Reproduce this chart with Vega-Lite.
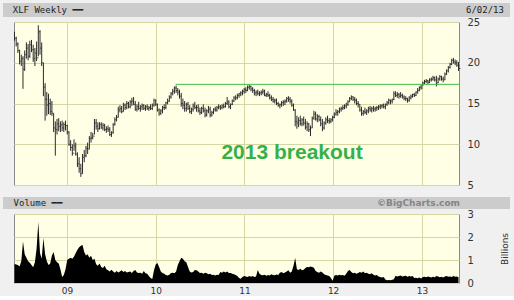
{
"$schema": "https://vega.github.io/schema/vega-lite/v6.json",
"background": "#f0f0f0",
"padding": {"left": 3, "top": 3, "right": 4, "bottom": 0},
"config": {
  "view": {"stroke": null},
  "font": "DejaVu Sans",
  "axis": {"labelFont": "DejaVu Sans", "labelColor": "#333333", "labelFontSize": 10, "ticks": false, "domain": false, "gridColor": "#d6d6a4", "gridWidth": 1, "gridOpacity": 1}
},
"datasets": {"px": [
{"d":"2008-05-30","h":23.8,"l":22.7,"c":23.0,"v":0.83},
{"d":"2008-06-06","h":23.2,"l":22.0,"c":22.3,"v":0.80},
{"d":"2008-06-13","h":22.5,"l":21.2,"c":21.5,"v":0.78},
{"d":"2008-06-20","h":21.6,"l":19.8,"c":20.2,"v":0.72},
{"d":"2008-06-27","h":21.0,"l":19.6,"c":20.5,"v":0.95},
{"d":"2008-07-04","h":20.8,"l":16.8,"c":19.2,"v":1.80},
{"d":"2008-07-11","h":21.5,"l":19.0,"c":21.0,"v":1.25},
{"d":"2008-07-18","h":22.5,"l":20.5,"c":21.8,"v":1.10},
{"d":"2008-07-25","h":22.3,"l":20.3,"c":20.8,"v":0.95},
{"d":"2008-08-01","h":22.7,"l":20.6,"c":22.2,"v":0.88},
{"d":"2008-08-08","h":22.8,"l":21.3,"c":21.6,"v":0.78},
{"d":"2008-08-15","h":22.2,"l":20.1,"c":20.5,"v":0.68},
{"d":"2008-08-22","h":21.8,"l":19.6,"c":21.2,"v":0.90},
{"d":"2008-08-29","h":22.6,"l":20.2,"c":20.6,"v":1.50},
{"d":"2008-09-05","h":24.6,"l":20.8,"c":23.8,"v":2.65},
{"d":"2008-09-12","h":24.0,"l":21.0,"c":21.8,"v":1.30},
{"d":"2008-09-19","h":22.5,"l":19.6,"c":20.0,"v":1.05},
{"d":"2008-09-26","h":20.0,"l":15.9,"c":17.0,"v":1.96},
{"d":"2008-10-03","h":17.5,"l":12.9,"c":15.5,"v":1.25},
{"d":"2008-10-10","h":16.4,"l":13.5,"c":14.8,"v":0.95},
{"d":"2008-10-17","h":16.2,"l":13.7,"c":15.0,"v":0.78},
{"d":"2008-10-24","h":15.6,"l":13.6,"c":14.0,"v":0.85},
{"d":"2008-10-31","h":15.3,"l":13.5,"c":13.8,"v":1.20},
{"d":"2008-11-07","h":13.8,"l":11.5,"c":12.0,"v":1.35},
{"d":"2008-11-14","h":12.8,"l":8.6,"c":11.8,"v":1.00},
{"d":"2008-11-21","h":13.1,"l":11.2,"c":12.5,"v":0.90},
{"d":"2008-11-28","h":13.2,"l":11.6,"c":12.2,"v":0.85},
{"d":"2008-12-05","h":12.8,"l":11.5,"c":12.4,"v":0.60},
{"d":"2008-12-12","h":12.9,"l":11.6,"c":12.0,"v":0.26},
{"d":"2008-12-19","h":12.7,"l":11.5,"c":12.4,"v":0.35},
{"d":"2008-12-26","h":12.9,"l":11.7,"c":12.3,"v":0.60},
{"d":"2009-01-02","h":12.4,"l":11.2,"c":11.5,"v":1.00},
{"d":"2009-01-09","h":11.6,"l":9.8,"c":10.0,"v":1.05},
{"d":"2009-01-16","h":10.5,"l":9.2,"c":9.6,"v":1.10},
{"d":"2009-01-23","h":10.0,"l":8.6,"c":8.9,"v":1.05},
{"d":"2009-01-30","h":10.6,"l":9.2,"c":9.8,"v":1.15},
{"d":"2009-02-06","h":10.2,"l":8.6,"c":8.8,"v":1.30},
{"d":"2009-02-13","h":9.0,"l":7.2,"c":7.6,"v":1.45},
{"d":"2009-02-20","h":8.4,"l":6.5,"c":7.0,"v":1.55},
{"d":"2009-02-27","h":7.6,"l":6.0,"c":6.4,"v":1.62},
{"d":"2009-03-06","h":8.8,"l":6.4,"c":8.4,"v":1.65},
{"d":"2009-03-13","h":9.3,"l":7.8,"c":8.6,"v":1.35},
{"d":"2009-03-20","h":9.8,"l":8.4,"c":9.5,"v":1.20},
{"d":"2009-03-27","h":10.2,"l":8.8,"c":9.4,"v":1.25},
{"d":"2009-04-03","h":11.0,"l":9.4,"c":10.7,"v":1.10},
{"d":"2009-04-10","h":11.5,"l":10.2,"c":10.8,"v":1.18},
{"d":"2009-04-17","h":11.4,"l":10.6,"c":11.0,"v":1.00},
{"d":"2009-04-24","h":13.1,"l":11.2,"c":12.6,"v":1.05},
{"d":"2009-05-01","h":13.1,"l":11.8,"c":12.2,"v":0.82},
{"d":"2009-05-08","h":12.7,"l":11.5,"c":11.9,"v":0.75},
{"d":"2009-05-15","h":12.7,"l":11.8,"c":12.4,"v":0.85},
{"d":"2009-05-22","h":12.7,"l":11.9,"c":12.0,"v":0.70},
{"d":"2009-05-29","h":12.6,"l":11.7,"c":12.3,"v":0.65},
{"d":"2009-06-05","h":12.5,"l":11.6,"c":11.8,"v":0.75},
{"d":"2009-06-12","h":12.2,"l":11.4,"c":11.9,"v":0.60},
{"d":"2009-06-19","h":12.3,"l":11.5,"c":11.8,"v":0.55},
{"d":"2009-06-26","h":12.1,"l":11.0,"c":11.2,"v":0.50},
{"d":"2009-07-03","h":11.6,"l":10.9,"c":11.4,"v":0.58},
{"d":"2009-07-10","h":12.6,"l":11.3,"c":12.4,"v":0.50},
{"d":"2009-07-17","h":13.3,"l":12.3,"c":13.0,"v":0.45},
{"d":"2009-07-24","h":13.6,"l":12.8,"c":13.3,"v":0.52},
{"d":"2009-07-31","h":14.6,"l":13.3,"c":14.2,"v":0.46},
{"d":"2009-08-07","h":14.8,"l":13.9,"c":14.4,"v":0.50},
{"d":"2009-08-14","h":14.7,"l":13.8,"c":14.0,"v":0.55},
{"d":"2009-08-21","h":15.1,"l":14.0,"c":14.8,"v":0.48},
{"d":"2009-08-28","h":15.0,"l":14.2,"c":14.5,"v":0.52},
{"d":"2009-09-04","h":15.3,"l":14.3,"c":15.0,"v":0.46},
{"d":"2009-09-11","h":15.2,"l":14.4,"c":14.6,"v":0.48},
{"d":"2009-09-18","h":15.4,"l":14.4,"c":15.2,"v":0.50},
{"d":"2009-09-25","h":15.7,"l":14.7,"c":15.3,"v":0.44},
{"d":"2009-10-02","h":15.8,"l":14.8,"c":14.9,"v":0.52},
{"d":"2009-10-09","h":15.3,"l":14.1,"c":14.3,"v":0.57},
{"d":"2009-10-16","h":14.9,"l":14.0,"c":14.6,"v":0.46},
{"d":"2009-10-23","h":15.2,"l":14.2,"c":14.4,"v":0.43},
{"d":"2009-10-30","h":14.8,"l":14.0,"c":14.6,"v":0.45},
{"d":"2009-11-06","h":15.0,"l":14.2,"c":14.8,"v":0.40},
{"d":"2009-11-13","h":14.9,"l":14.2,"c":14.4,"v":0.52},
{"d":"2009-11-20","h":14.8,"l":14.1,"c":14.6,"v":0.42},
{"d":"2009-11-27","h":14.9,"l":14.2,"c":14.4,"v":0.40},
{"d":"2009-12-04","h":14.7,"l":14.1,"c":14.5,"v":0.30},
{"d":"2009-12-11","h":14.9,"l":14.2,"c":14.4,"v":0.22},
{"d":"2009-12-18","h":15.0,"l":14.2,"c":14.8,"v":0.17},
{"d":"2009-12-25","h":15.6,"l":14.6,"c":15.4,"v":0.55},
{"d":"2010-01-01","h":15.5,"l":14.7,"c":14.9,"v":0.80},
{"d":"2010-01-08","h":15.0,"l":14.0,"c":14.2,"v":0.87},
{"d":"2010-01-15","h":14.4,"l":13.5,"c":13.8,"v":0.70},
{"d":"2010-01-22","h":14.3,"l":13.6,"c":14.1,"v":0.50},
{"d":"2010-01-29","h":14.7,"l":13.8,"c":14.5,"v":0.43},
{"d":"2010-02-05","h":14.9,"l":14.2,"c":14.5,"v":0.40},
{"d":"2010-02-12","h":15.2,"l":14.3,"c":15.1,"v":0.35},
{"d":"2010-02-19","h":15.6,"l":14.9,"c":15.3,"v":0.33},
{"d":"2010-02-26","h":16.0,"l":15.2,"c":15.8,"v":0.36},
{"d":"2010-03-05","h":16.4,"l":15.6,"c":16.2,"v":0.43},
{"d":"2010-03-12","h":16.8,"l":16.0,"c":16.5,"v":0.45},
{"d":"2010-03-19","h":17.1,"l":16.2,"c":16.9,"v":0.42},
{"d":"2010-03-26","h":17.2,"l":16.3,"c":16.6,"v":0.50},
{"d":"2010-04-02","h":16.9,"l":16.0,"c":16.4,"v":0.78},
{"d":"2010-04-09","h":16.7,"l":15.6,"c":15.9,"v":0.95},
{"d":"2010-04-16","h":16.3,"l":14.6,"c":15.0,"v":1.10},
{"d":"2010-04-23","h":15.6,"l":14.3,"c":14.8,"v":1.05},
{"d":"2010-04-30","h":15.3,"l":14.0,"c":14.4,"v":0.95},
{"d":"2010-05-07","h":15.1,"l":14.0,"c":14.9,"v":0.90},
{"d":"2010-05-14","h":15.2,"l":14.2,"c":14.4,"v":0.70},
{"d":"2010-05-21","h":14.8,"l":13.8,"c":14.0,"v":0.50},
{"d":"2010-05-28","h":14.5,"l":13.7,"c":14.3,"v":0.46},
{"d":"2010-06-04","h":15.0,"l":14.0,"c":14.7,"v":0.48},
{"d":"2010-06-11","h":15.2,"l":14.3,"c":14.5,"v":0.57},
{"d":"2010-06-18","h":14.8,"l":14.0,"c":14.5,"v":0.55},
{"d":"2010-06-25","h":14.9,"l":13.9,"c":14.1,"v":0.50},
{"d":"2010-07-02","h":14.5,"l":13.6,"c":13.9,"v":0.43},
{"d":"2010-07-09","h":14.6,"l":13.7,"c":14.4,"v":0.45},
{"d":"2010-07-16","h":14.9,"l":13.9,"c":14.1,"v":0.40},
{"d":"2010-07-23","h":14.5,"l":13.3,"c":13.6,"v":0.45},
{"d":"2010-07-30","h":14.3,"l":13.4,"c":14.1,"v":0.42},
{"d":"2010-08-06","h":14.7,"l":13.8,"c":14.3,"v":0.38},
{"d":"2010-08-13","h":14.6,"l":13.3,"c":13.6,"v":0.40},
{"d":"2010-08-20","h":14.1,"l":13.4,"c":13.9,"v":0.35},
{"d":"2010-08-27","h":14.4,"l":13.7,"c":14.3,"v":0.36},
{"d":"2010-09-03","h":14.6,"l":14.0,"c":14.2,"v":0.33},
{"d":"2010-09-10","h":14.7,"l":14.0,"c":14.5,"v":0.36},
{"d":"2010-09-17","h":14.9,"l":14.3,"c":14.6,"v":0.35},
{"d":"2010-09-24","h":14.8,"l":14.2,"c":14.5,"v":0.48},
{"d":"2010-10-01","h":14.9,"l":14.3,"c":14.7,"v":0.45},
{"d":"2010-10-08","h":15.0,"l":14.4,"c":14.6,"v":0.50},
{"d":"2010-10-15","h":15.2,"l":14.5,"c":15.0,"v":0.46},
{"d":"2010-10-22","h":15.8,"l":14.8,"c":15.2,"v":0.50},
{"d":"2010-10-29","h":15.4,"l":14.4,"c":14.6,"v":0.44},
{"d":"2010-11-05","h":15.0,"l":14.3,"c":14.9,"v":0.43},
{"d":"2010-11-12","h":15.5,"l":14.8,"c":15.3,"v":0.40},
{"d":"2010-11-19","h":15.9,"l":15.2,"c":15.7,"v":0.38},
{"d":"2010-11-26","h":16.0,"l":15.4,"c":15.7,"v":0.35},
{"d":"2010-12-03","h":16.2,"l":15.5,"c":16.0,"v":0.30},
{"d":"2010-12-10","h":16.3,"l":15.7,"c":16.2,"v":0.22},
{"d":"2010-12-17","h":16.5,"l":15.9,"c":16.3,"v":0.18},
{"d":"2010-12-24","h":16.7,"l":16.0,"c":16.5,"v":0.26},
{"d":"2010-12-31","h":16.9,"l":16.2,"c":16.7,"v":0.30},
{"d":"2011-01-07","h":17.0,"l":16.3,"c":16.6,"v":0.28},
{"d":"2011-01-14","h":17.2,"l":16.5,"c":17.0,"v":0.26},
{"d":"2011-01-21","h":17.3,"l":16.7,"c":17.1,"v":0.30},
{"d":"2011-01-28","h":17.2,"l":16.5,"c":16.8,"v":0.27},
{"d":"2011-02-04","h":17.0,"l":16.3,"c":16.6,"v":0.30},
{"d":"2011-02-11","h":16.8,"l":16.0,"c":16.3,"v":0.26},
{"d":"2011-02-18","h":16.6,"l":15.9,"c":16.4,"v":0.28},
{"d":"2011-02-25","h":16.7,"l":16.0,"c":16.2,"v":0.57},
{"d":"2011-03-04","h":16.5,"l":15.9,"c":16.3,"v":0.40},
{"d":"2011-03-11","h":16.6,"l":16.0,"c":16.4,"v":0.35},
{"d":"2011-03-18","h":16.8,"l":16.1,"c":16.5,"v":0.34},
{"d":"2011-03-25","h":16.7,"l":15.9,"c":16.0,"v":0.36},
{"d":"2011-04-01","h":16.3,"l":15.8,"c":16.1,"v":0.32},
{"d":"2011-04-08","h":16.5,"l":15.8,"c":16.0,"v":0.35},
{"d":"2011-04-15","h":16.2,"l":15.5,"c":15.7,"v":0.33},
{"d":"2011-04-22","h":16.0,"l":15.3,"c":15.5,"v":0.38},
{"d":"2011-04-29","h":15.8,"l":15.1,"c":15.3,"v":0.35},
{"d":"2011-05-06","h":15.6,"l":15.0,"c":15.4,"v":0.34},
{"d":"2011-05-13","h":15.6,"l":14.8,"c":15.0,"v":0.37},
{"d":"2011-05-20","h":15.2,"l":14.6,"c":14.8,"v":0.35},
{"d":"2011-05-27","h":15.0,"l":14.4,"c":14.9,"v":0.45},
{"d":"2011-06-03","h":15.3,"l":14.6,"c":15.1,"v":0.48},
{"d":"2011-06-10","h":15.4,"l":14.7,"c":15.2,"v":0.42},
{"d":"2011-06-17","h":15.5,"l":14.8,"c":15.3,"v":0.46},
{"d":"2011-06-24","h":15.8,"l":15.1,"c":15.6,"v":0.50},
{"d":"2011-07-01","h":15.9,"l":15.2,"c":15.5,"v":0.55},
{"d":"2011-07-08","h":15.8,"l":15.0,"c":15.3,"v":0.45},
{"d":"2011-07-15","h":15.5,"l":14.6,"c":14.8,"v":0.50},
{"d":"2011-07-22","h":15.0,"l":14.1,"c":14.2,"v":0.75},
{"d":"2011-07-29","h":14.3,"l":12.2,"c":12.8,"v":1.09},
{"d":"2011-08-05","h":13.5,"l":11.9,"c":12.6,"v":0.60},
{"d":"2011-08-12","h":13.3,"l":12.1,"c":12.9,"v":0.57},
{"d":"2011-08-19","h":13.5,"l":12.3,"c":12.5,"v":0.62},
{"d":"2011-08-26","h":13.2,"l":12.2,"c":13.0,"v":0.55},
{"d":"2011-09-02","h":13.4,"l":12.3,"c":12.6,"v":0.58},
{"d":"2011-09-09","h":13.1,"l":11.8,"c":12.1,"v":0.65},
{"d":"2011-09-16","h":12.8,"l":11.6,"c":12.5,"v":0.70},
{"d":"2011-09-23","h":12.6,"l":11.5,"c":11.8,"v":0.68},
{"d":"2011-09-30","h":12.3,"l":11.0,"c":12.0,"v":0.72},
{"d":"2011-10-07","h":13.4,"l":12.0,"c":13.2,"v":0.70},
{"d":"2011-10-14","h":14.1,"l":13.0,"c":13.7,"v":0.66},
{"d":"2011-10-21","h":14.0,"l":12.9,"c":13.1,"v":0.52},
{"d":"2011-10-28","h":13.7,"l":12.7,"c":13.4,"v":0.48},
{"d":"2011-11-04","h":13.6,"l":12.8,"c":13.0,"v":0.45},
{"d":"2011-11-11","h":13.4,"l":12.2,"c":12.5,"v":0.50},
{"d":"2011-11-18","h":13.1,"l":11.6,"c":12.0,"v":0.46},
{"d":"2011-11-25","h":12.8,"l":11.8,"c":12.6,"v":0.38},
{"d":"2011-12-02","h":13.3,"l":12.4,"c":13.0,"v":0.35},
{"d":"2011-12-09","h":13.5,"l":12.6,"c":12.9,"v":0.33},
{"d":"2011-12-16","h":13.2,"l":12.5,"c":12.8,"v":0.30},
{"d":"2011-12-23","h":13.2,"l":12.6,"c":13.0,"v":0.22},
{"d":"2011-12-30","h":13.5,"l":12.8,"c":13.3,"v":0.10},
{"d":"2012-01-06","h":13.9,"l":13.2,"c":13.7,"v":0.32},
{"d":"2012-01-13","h":14.3,"l":13.5,"c":13.9,"v":0.35},
{"d":"2012-01-20","h":14.2,"l":13.5,"c":14.0,"v":0.33},
{"d":"2012-01-27","h":14.5,"l":13.8,"c":14.3,"v":0.36},
{"d":"2012-02-03","h":14.6,"l":14.0,"c":14.4,"v":0.34},
{"d":"2012-02-10","h":14.8,"l":14.2,"c":14.5,"v":0.35},
{"d":"2012-02-17","h":14.9,"l":14.3,"c":14.7,"v":0.32},
{"d":"2012-02-24","h":15.1,"l":14.4,"c":14.9,"v":0.40},
{"d":"2012-03-02","h":15.4,"l":14.7,"c":15.2,"v":0.52},
{"d":"2012-03-09","h":15.8,"l":15.2,"c":15.6,"v":0.57},
{"d":"2012-03-16","h":16.0,"l":15.4,"c":15.8,"v":0.48},
{"d":"2012-03-23","h":15.9,"l":15.3,"c":15.5,"v":0.42},
{"d":"2012-03-30","h":15.8,"l":15.0,"c":15.4,"v":0.45},
{"d":"2012-04-06","h":15.6,"l":14.8,"c":15.0,"v":0.40},
{"d":"2012-04-13","h":15.3,"l":14.5,"c":14.9,"v":0.44},
{"d":"2012-04-20","h":14.9,"l":14.0,"c":14.2,"v":0.48},
{"d":"2012-04-27","h":14.6,"l":13.5,"c":13.8,"v":0.45},
{"d":"2012-05-04","h":14.2,"l":13.5,"c":14.0,"v":0.50},
{"d":"2012-05-11","h":14.5,"l":13.7,"c":13.9,"v":0.42},
{"d":"2012-05-18","h":14.3,"l":13.6,"c":14.1,"v":0.45},
{"d":"2012-05-25","h":14.6,"l":13.8,"c":14.4,"v":0.40},
{"d":"2012-06-01","h":14.7,"l":14.0,"c":14.2,"v":0.38},
{"d":"2012-06-08","h":14.6,"l":13.9,"c":14.4,"v":0.42},
{"d":"2012-06-15","h":14.7,"l":14.0,"c":14.3,"v":0.36},
{"d":"2012-06-22","h":14.6,"l":14.0,"c":14.4,"v":0.33},
{"d":"2012-06-29","h":14.7,"l":14.1,"c":14.5,"v":0.35},
{"d":"2012-07-06","h":14.8,"l":14.2,"c":14.6,"v":0.28},
{"d":"2012-07-13","h":14.9,"l":14.3,"c":14.7,"v":0.26},
{"d":"2012-07-20","h":14.9,"l":14.4,"c":14.8,"v":0.24},
{"d":"2012-07-27","h":15.0,"l":14.4,"c":14.6,"v":0.26},
{"d":"2012-08-03","h":15.0,"l":14.3,"c":14.9,"v":0.15},
{"d":"2012-08-10","h":15.3,"l":14.7,"c":15.1,"v":0.12},
{"d":"2012-08-17","h":15.6,"l":14.9,"c":15.4,"v":0.13},
{"d":"2012-08-24","h":15.5,"l":14.9,"c":15.3,"v":0.12},
{"d":"2012-08-31","h":15.6,"l":15.0,"c":15.5,"v":0.14},
{"d":"2012-09-07","h":16.5,"l":15.4,"c":16.2,"v":0.16},
{"d":"2012-09-14","h":16.5,"l":15.8,"c":16.0,"v":0.32},
{"d":"2012-09-21","h":16.4,"l":15.7,"c":16.1,"v":0.28},
{"d":"2012-09-28","h":16.3,"l":15.6,"c":15.9,"v":0.30},
{"d":"2012-10-05","h":16.4,"l":15.7,"c":16.0,"v":0.33},
{"d":"2012-10-12","h":16.2,"l":15.6,"c":15.8,"v":0.28},
{"d":"2012-10-19","h":16.0,"l":15.4,"c":15.6,"v":0.30},
{"d":"2012-10-26","h":15.9,"l":15.3,"c":15.6,"v":0.32},
{"d":"2012-11-02","h":15.7,"l":15.1,"c":15.4,"v":0.27},
{"d":"2012-11-09","h":15.9,"l":15.2,"c":15.7,"v":0.30},
{"d":"2012-11-16","h":16.1,"l":15.5,"c":15.9,"v":0.28},
{"d":"2012-11-23","h":16.2,"l":15.7,"c":16.1,"v":0.30},
{"d":"2012-11-30","h":16.3,"l":15.8,"c":16.0,"v":0.22},
{"d":"2012-12-07","h":16.5,"l":15.9,"c":16.4,"v":0.23},
{"d":"2012-12-14","h":16.9,"l":16.2,"c":16.6,"v":0.21},
{"d":"2012-12-21","h":17.1,"l":16.5,"c":17.0,"v":0.24},
{"d":"2012-12-28","h":17.3,"l":16.7,"c":16.9,"v":0.20},
{"d":"2013-01-04","h":17.7,"l":17.1,"c":17.5,"v":0.26},
{"d":"2013-01-11","h":17.9,"l":17.4,"c":17.7,"v":0.27},
{"d":"2013-01-18","h":18.0,"l":17.5,"c":17.8,"v":0.25},
{"d":"2013-01-25","h":17.9,"l":17.4,"c":17.6,"v":0.28},
{"d":"2013-02-01","h":18.1,"l":17.5,"c":17.9,"v":0.26},
{"d":"2013-02-08","h":18.2,"l":17.7,"c":18.0,"v":0.24},
{"d":"2013-02-15","h":18.4,"l":17.8,"c":18.2,"v":0.27},
{"d":"2013-02-22","h":18.3,"l":17.7,"c":17.9,"v":0.25},
{"d":"2013-03-01","h":18.4,"l":17.1,"c":17.5,"v":0.30},
{"d":"2013-03-08","h":18.2,"l":17.5,"c":18.0,"v":0.28},
{"d":"2013-03-15","h":18.5,"l":17.8,"c":18.3,"v":0.25},
{"d":"2013-03-22","h":18.4,"l":17.8,"c":18.0,"v":0.27},
{"d":"2013-03-29","h":18.3,"l":17.6,"c":17.9,"v":0.24},
{"d":"2013-04-05","h":18.8,"l":17.9,"c":18.6,"v":0.28},
{"d":"2013-04-12","h":19.2,"l":18.5,"c":19.0,"v":0.30},
{"d":"2013-04-19","h":19.6,"l":18.8,"c":19.4,"v":0.27},
{"d":"2013-04-26","h":20.0,"l":19.3,"c":19.8,"v":0.28},
{"d":"2013-05-03","h":20.5,"l":19.7,"c":20.3,"v":0.26},
{"d":"2013-05-10","h":20.6,"l":19.9,"c":20.1,"v":0.30},
{"d":"2013-05-17","h":20.4,"l":19.7,"c":20.0,"v":0.27},
{"d":"2013-05-24","h":20.3,"l":19.5,"c":19.7,"v":0.28},
{"d":"2013-05-31","h":20.1,"l":19.0,"c":19.3,"v":0.25}
]},
"spacing": 6,
"vconcat": [
 {"spacing": -1, "vconcat": [
   {"spacing": 0, "hconcat": [
     {"width": 90, "height": 14, "view": {"fill": "#cccccc", "stroke": null},
      "data": {"values": [{"label": "XLF Weekly ━━"}]},
      "mark": {"type": "text", "baseline": "middle", "align": "center", "font": "DejaVu Sans Mono", "fontSize": 9, "color": "#222222"},
      "encoding": {"text": {"field": "label"}}},
     {"width": 367, "height": 14, "view": {"fill": "#cccccc", "stroke": null},
      "data": {"values": [{}]}, "mark": {"type": "text", "text": ""}},
     {"width": 50, "height": 14, "view": {"fill": "#cccccc", "stroke": null},
      "data": {"values": [{"label": "6/02/13"}]},
      "mark": {"type": "text", "baseline": "middle", "align": "center", "font": "DejaVu Sans Mono", "fontSize": 9, "color": "#222222"},
      "encoding": {"text": {"field": "label"}}}
   ]},
   {"spacing": 9, "hconcat": [
     {"width": 1, "height": 163, "data": {"values": [{}]}, "mark": {"type": "text", "text": ""}},
     {"width": 445, "height": 163, "view": {"fill": "#ffffe6", "stroke": "#8a8a8a"},
      "layer": [
        {"data": {"name": "px"}, "mark": {"type": "rule", "color": "#2a2a2a", "strokeWidth": 1},
         "encoding": {
           "x": {"field": "d", "type": "temporal",
                 "scale": {"type": "utc", "domain": [{"year": 2008, "month": 5, "date": 28, "utc": true}, {"year": 2013, "month": 6, "date": 2, "utc": true}]},
                 "axis": {"values": [{"year": 2009, "month": 1, "date": 1, "utc": true}, {"year": 2010, "month": 1, "date": 1, "utc": true}, {"year": 2011, "month": 1, "date": 1, "utc": true}, {"year": 2012, "month": 1, "date": 1, "utc": true}, {"year": 2013, "month": 1, "date": 1, "utc": true}], "labels": false, "grid": true, "title": null}},
           "y": {"field": "l", "type": "quantitative", "scale": {"domain": [5, 25], "nice": false, "zero": false},
                 "axis": {"orient": "right", "values": [5, 10, 15, 20, 25], "grid": true, "labelPadding": 8, "labelFlush": false, "labelOverlap": false, "title": null}},
           "y2": {"field": "h"}
         }},
        {"data": {"name": "px"}, "mark": {"type": "tick", "orient": "horizontal", "size": 2, "thickness": 1, "xOffset": 1, "color": "#2a2a2a"},
         "encoding": {"x": {"field": "d", "type": "temporal"}, "y": {"field": "c", "type": "quantitative"}}},
        {"data": {"values": [{"from": "2010-03-24", "to": "2013-06-02", "lvl": 17.35}]},
         "mark": {"type": "rule", "color": "#3cbf4a", "strokeWidth": 1},
         "encoding": {"x": {"field": "from", "type": "temporal"}, "x2": {"field": "to"}, "y": {"field": "lvl", "type": "quantitative"}}},
        {"data": {"values": [{"d": "2011-07-16", "p": 8.9, "t": "2013 breakout"}]},
         "mark": {"type": "text", "font": "Liberation Sans", "fontSize": 21, "fontWeight": "bold", "color": "#36b14a", "align": "center", "baseline": "middle"},
         "encoding": {"x": {"field": "d", "type": "temporal"}, "y": {"field": "p", "type": "quantitative"}, "text": {"field": "t"}}}
      ]}
   ]}
 ]},
 {"spacing": -1, "vconcat": [
   {"spacing": 0, "hconcat": [
     {"width": 70, "height": 12, "view": {"fill": "#cccccc", "stroke": null},
      "data": {"values": [{"label": "Volume ━━"}]},
      "mark": {"type": "text", "baseline": "middle", "align": "center", "font": "DejaVu Sans Mono", "fontSize": 9, "color": "#222222"},
      "encoding": {"text": {"field": "label"}}},
     {"width": 254, "height": 12, "view": {"fill": "#cccccc", "stroke": null},
      "data": {"values": [{}]}, "mark": {"type": "text", "text": ""}},
     {"width": 183, "height": 12, "view": {"fill": "#cccccc", "stroke": null},
      "data": {"values": [{"label": "©BigCharts.com"}]},
      "mark": {"type": "text", "baseline": "middle", "align": "center", "font": "DejaVu Sans", "fontSize": 9, "fontWeight": "bold", "color": "#858585"},
      "encoding": {"text": {"field": "label"}}}
   ]},
   {"spacing": 9, "hconcat": [
     {"width": 1, "height": 69, "data": {"values": [{}]}, "mark": {"type": "text", "text": ""}},
     {"width": 445, "height": 69, "view": {"fill": "#ffffe6", "stroke": "#8a8a8a"},
      "data": {"name": "px"},
      "mark": {"type": "area", "color": "#000000", "interpolate": "linear"},
      "encoding": {
        "x": {"field": "d", "type": "temporal",
              "scale": {"type": "utc", "domain": [{"year": 2008, "month": 5, "date": 28, "utc": true}, {"year": 2013, "month": 6, "date": 2, "utc": true}]},
              "axis": {"values": [{"year": 2009, "month": 1, "date": 1, "utc": true}, {"year": 2010, "month": 1, "date": 1, "utc": true}, {"year": 2011, "month": 1, "date": 1, "utc": true}, {"year": 2012, "month": 1, "date": 1, "utc": true}, {"year": 2013, "month": 1, "date": 1, "utc": true}], "format": "%y", "grid": true, "labelPadding": 3, "labelFontSize": 9, "labelFlush": false, "title": null}},
        "y": {"field": "v", "type": "quantitative", "scale": {"domain": [0, 3], "nice": false},
              "axis": {"orient": "right", "values": [0, 1, 2, 3], "grid": true, "labelPadding": 8, "labelFlush": false, "labelOverlap": false, "title": "Billions", "titleAngle": 270, "titleFontSize": 9, "titleFontWeight": "normal", "titleColor": "#333333", "titlePadding": 36}}
      }}
   ]}
 ]}
]
}
